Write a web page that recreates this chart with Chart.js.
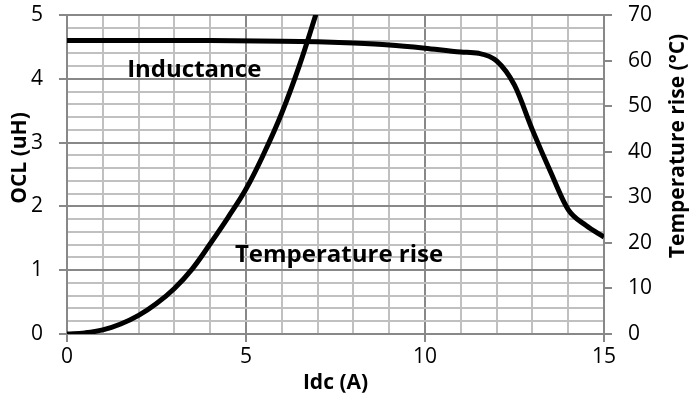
<!DOCTYPE html>
<html>
<head>
<meta charset="utf-8">
<script src="https://cdn.jsdelivr.net/npm/chart.js@4"></script>
<style>
  html, body { margin: 0; padding: 0; background: #fff; overflow: hidden; }
</style>
</head>
<body>
<canvas id="grafico" width="691" height="411"></canvas>
<script>
// dados
const idcIndutancia = [0, 2, 4, 6, 7, 8, 9, 10, 11, 11.5, 12, 12.5, 13, 13.5, 14, 14.5, 15];
const ocl = [4.6, 4.6, 4.6, 4.59, 4.58, 4.56, 4.53, 4.48, 4.42, 4.4, 4.28, 3.9, 3.2, 2.55, 1.95, 1.7, 1.52];

const idcTemperatura = [0, 0.5, 1, 1.5, 2, 2.5, 3, 3.5, 4, 4.5, 5, 5.5, 6, 6.5, 7];
const tempRise = [0, 0.25, 0.9, 2.2, 4.1, 6.7, 10.0, 14.3, 19.8, 25.6, 31.8, 39.6, 48.5, 59.1, 71.3];

const ticksX = [0, 5, 10, 15];
const rotulos = [
    { texto: "Inductance", x: 1.68, y: 4.14 },
    { texto: "Temperature rise", x: 4.69, y: 1.24 }
];
const tituloX = "Idc (A)";
const tituloY = "OCL (uH)";
const tituloY2 = "Temperature rise (°C)";

const fonte = "'Open Sans', sans-serif";
const corMaior = "#888888";
const corMenor = "#c0c0c0";

// textos dentro do grafico e titulos dos eixos
const textoNoGrafico = {
    id: "textoNoGrafico",
    afterDraw(chart) {
        const ctx = chart.ctx;
        const sx = chart.scales.x;
        const sy = chart.scales.y;
        const area = chart.chartArea;
        ctx.save();
        ctx.fillStyle = "#000";
        ctx.font = "bold 24px " + fonte;
        ctx.textBaseline = "middle";
        ctx.textAlign = "left";
        rotulos.forEach(r => {
            ctx.fillText(r.texto, sx.getPixelForValue(r.x), sy.getPixelForValue(r.y));
        });

        ctx.font = "bold 21px " + fonte;
        ctx.textAlign = "center";
        ctx.fillText(tituloX, (area.left + area.right) / 2, 383);

        ctx.save();
        ctx.translate(20, 158);
        ctx.rotate(-Math.PI / 2);
        ctx.fillText(tituloY, 0, 0);
        ctx.restore();

        ctx.save();
        ctx.translate(678, 146);
        ctx.rotate(-Math.PI / 2);
        ctx.fillText(tituloY2, 0, 0);
        ctx.restore();

        ctx.restore();
    }
};

const ehInteiro = v => Math.abs(v - Math.round(v)) < 1e-6;

// largura fixa dos eixos verticais, sem folga extra em cima/embaixo
const fixarEixoY = largura => s => {
    s.width = largura;
    s.paddingTop = 0;
    s.paddingBottom = 0;
};

new Chart(document.getElementById("grafico"), {
    type: "line",
    data: {
        datasets: [
            {
                label: "Inductance",
                data: idcIndutancia.map((x, i) => ({ x: x, y: ocl[i] })),
                yAxisID: "y",
                borderColor: "#000",
                borderWidth: 5,
                pointRadius: 0,
                cubicInterpolationMode: "monotone",
                fill: false
            },
            {
                label: "Temperature rise",
                data: idcTemperatura.map((x, i) => ({ x: x, y: tempRise[i] })),
                yAxisID: "y2",
                borderColor: "#000",
                borderWidth: 5,
                pointRadius: 0,
                tension: 0.4,
                fill: false
            }
        ]
    },
    options: {
        responsive: false,
        animation: false,
        devicePixelRatio: 1,
        layout: { padding: { top: 15, left: 0, right: 0, bottom: 0 } },
        plugins: { legend: { display: false }, tooltip: { enabled: false } },
        scales: {
            x: {
                type: "linear",
                min: 0, max: 15,
                afterFit: s => { s.height = 77; },
                ticks: {
                    stepSize: 1,
                    color: "#000",
                    font: { family: fonte, size: 21 },
                    padding: 2,
                    maxRotation: 0,
                    autoSkip: false,
                    callback: v => ticksX.includes(v) ? v : ""
                },
                grid: {
                    color: c => (c.tick && c.tick.value % 5 === 0) ? corMaior : corMenor,
                    lineWidth: 2,
                    tickLength: 8,
                    tickColor: c => (c.tick && c.tick.value % 5 === 0) ? corMaior : "rgba(0,0,0,0)"
                },
                border: { color: corMaior, width: 2 }
            },
            y: {
                position: "left",
                min: 0, max: 5,
                afterFit: fixarEixoY(67),
                ticks: {
                    stepSize: 0.2,
                    color: "#000",
                    font: { family: fonte, size: 21 },
                    padding: 16,
                    autoSkip: false,
                    callback: v => ehInteiro(v) ? Math.round(v) : ""
                },
                grid: {
                    color: c => (c.tick && ehInteiro(c.tick.value)) ? corMaior : corMenor,
                    lineWidth: 2,
                    tickLength: 8,
                    tickColor: c => (c.tick && ehInteiro(c.tick.value)) ? corMaior : "rgba(0,0,0,0)"
                },
                border: { color: corMaior, width: 2 }
            },
            y2: {
                position: "right",
                min: 0, max: 70,
                afterFit: fixarEixoY(87),
                ticks: {
                    stepSize: 10,
                    color: "#000",
                    font: { family: fonte, size: 21 },
                    padding: 16
                },
                grid: {
                    drawOnChartArea: false,
                    color: corMaior,
                    lineWidth: 2,
                    tickLength: 8
                },
                border: { color: corMaior, width: 2 }
            }
        }
    },
    plugins: [textoNoGrafico]
});
</script>
</body>
</html>
